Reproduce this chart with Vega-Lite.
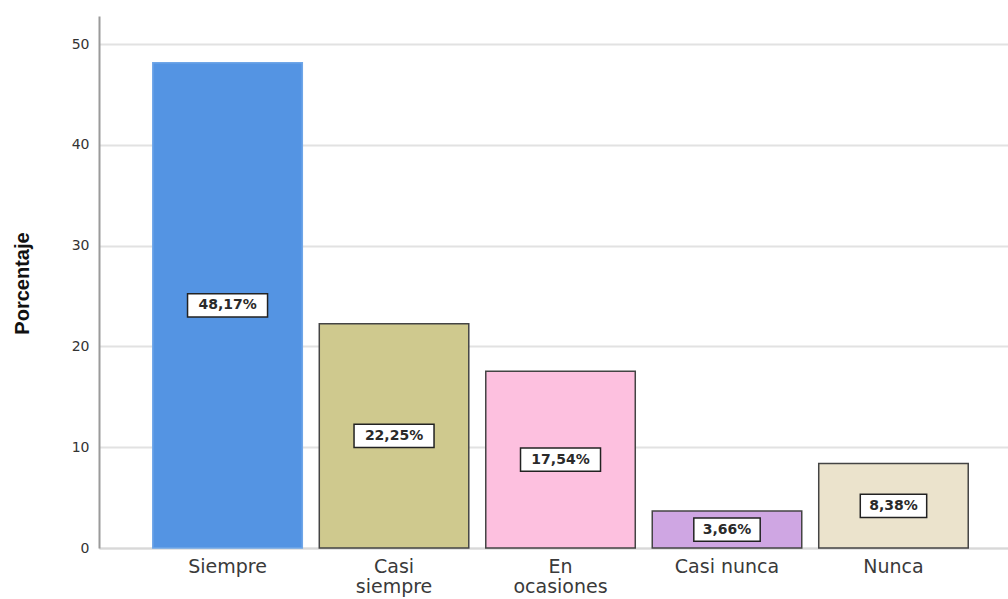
{
  "$schema": "https://vega.github.io/schema/vega-lite/v6.json",
  "width": 909,
  "height": 532,
  "autosize": {"type": "none"},
  "padding": {"left": 99, "top": 16, "right": 0, "bottom": 51},
  "background": "white",
  "config": {"view": {"stroke": null}, "font": "DejaVu Sans"},
  "data": {
    "values": [
      {"categoria": "Siempre", "pct": 48.17, "etiqueta": "48,17%"},
      {"categoria": "Casi siempre", "pct": 22.25, "etiqueta": "22,25%"},
      {"categoria": "En ocasiones", "pct": 17.54, "etiqueta": "17,54%"},
      {"categoria": "Casi nunca", "pct": 3.66, "etiqueta": "3,66%"},
      {"categoria": "Nunca", "pct": 8.38, "etiqueta": "8,38%"}
    ]
  },
  "encoding": {
    "x": {
      "field": "categoria",
      "type": "nominal",
      "sort": null,
      "scale": {"paddingInner": 0.102, "paddingOuter": 0.281, "align": 0.575},
      "axis": {
        "title": null,
        "labelAngle": 0,
        "labelFont": "DejaVu Sans",
        "labelFontSize": 19,
        "labelColor": "#3a3a3a",
        "labelPadding": 9,
        "labelLineHeight": 20,
        "labelBaseline": "top",
        "labelExpr": "datum.label == 'Casi siempre' ? ['Casi', 'siempre'] : datum.label == 'En ocasiones' ? ['En', 'ocasiones'] : datum.label",
        "ticks": false,
        "domainColor": "#d8d8d8",
        "domainWidth": 2,
        "grid": false
      }
    }
  },
  "layer": [
    {
      "mark": {"type": "bar", "strokeWidth": 1.5},
      "encoding": {
        "y": {
          "field": "pct",
          "type": "quantitative",
          "scale": {"domain": [0, 52.8], "nice": false},
          "axis": {
            "title": "Porcentaje",
            "titleFont": "Liberation Sans",
            "titleFontSize": 20,
            "titleFontWeight": "bold",
            "titleColor": "#111",
            "titleAngle": -90,
            "titleX": -77,
            "titleY": 267,
            "titleAlign": "center",
            "titleBaseline": "middle",
            "values": [0, 10, 20, 30, 40, 50],
            "labelFont": "DejaVu Sans",
            "labelFontSize": 14,
            "labelColor": "#333",
            "labelPadding": 10,
            "ticks": false,
            "domainColor": "#9a9a9a",
            "domainWidth": 2,
            "gridColor": "#e2e2e2",
            "gridWidth": 2
          }
        },
        "color": {
          "field": "categoria",
          "type": "nominal",
          "scale": {
            "domain": ["Siempre", "Casi siempre", "En ocasiones", "Casi nunca", "Nunca"],
            "range": ["#5494e3", "#cfc98e", "#fdc0df", "#cfa6e3", "#ebe3cc"]
          },
          "legend": null
        },
        "stroke": {
          "condition": {"test": "datum.categoria == 'Siempre'", "value": "#6fa6e8"},
          "value": "#444444"
        }
      }
    },
    {
      "transform": [{"calculate": "datum.pct / 2", "as": "medio"}],
      "mark": {"type": "point", "filled": true, "fill": "white", "stroke": "#222", "strokeWidth": 1.5, "opacity": 1},
      "encoding": {
        "y": {"field": "medio", "type": "quantitative"},
        "size": {"value": 6400},
        "shape": {
          "condition": {"test": "datum.pct < 10", "value": "M-0.83,-0.29H0.83V0.29H-0.83Z"},
          "value": "M-1,-0.29H1V0.29H-1Z"
        }
      }
    },
    {
      "transform": [{"calculate": "datum.pct / 2", "as": "medio"}],
      "mark": {"type": "text", "font": "DejaVu Sans", "fontSize": 14, "fontWeight": "bold", "color": "#2a2a2a", "baseline": "middle", "align": "center"},
      "encoding": {
        "y": {"field": "medio", "type": "quantitative"},
        "text": {"field": "etiqueta"}
      }
    }
  ]
}
